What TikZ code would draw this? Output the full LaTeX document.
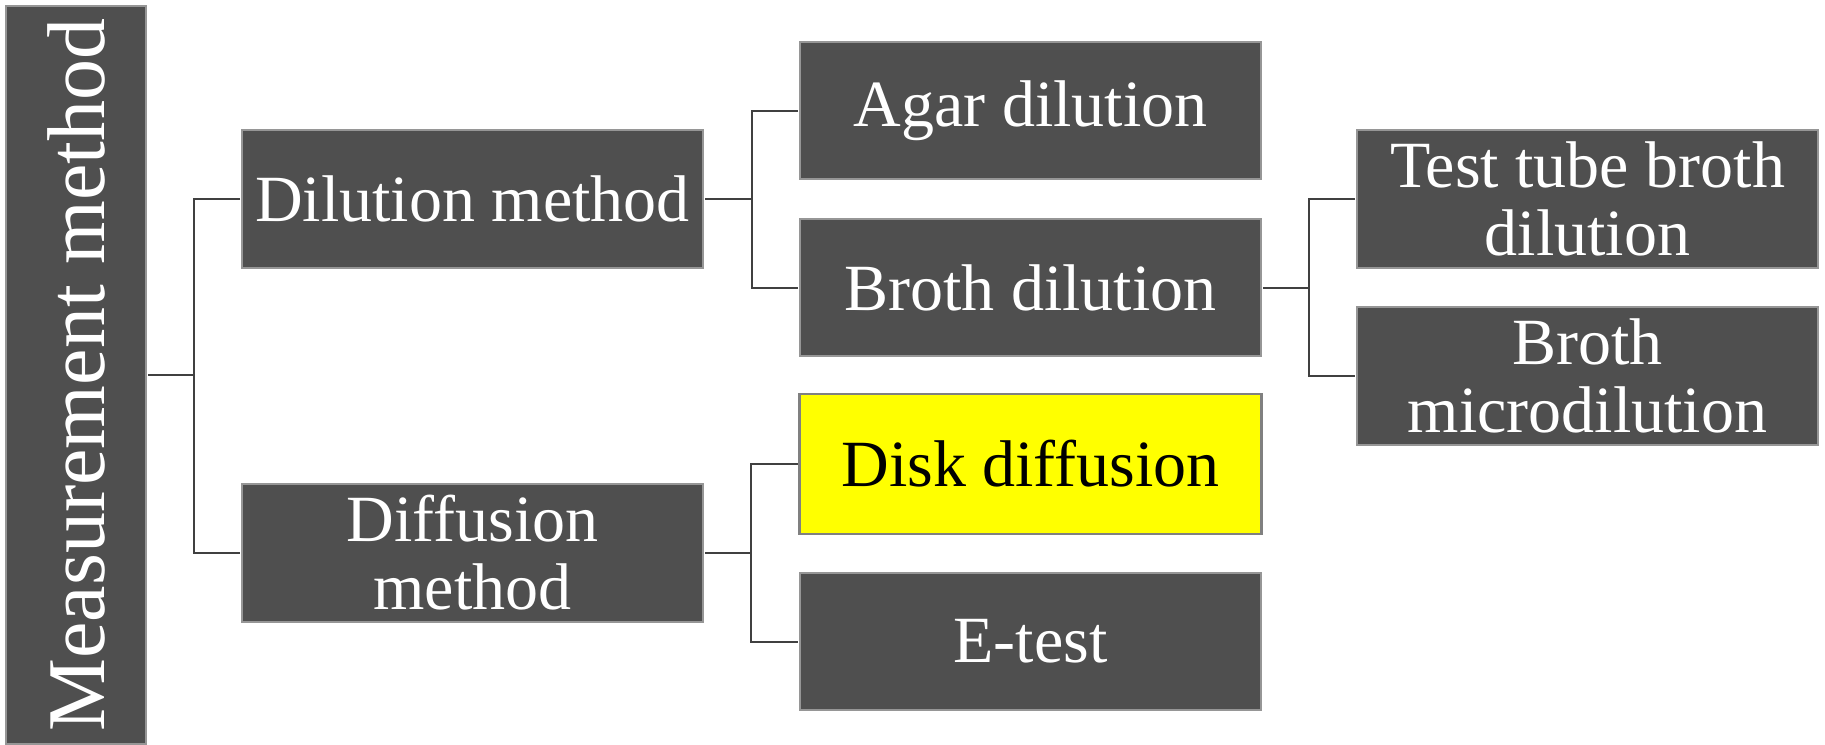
\documentclass[tikz,border=0pt]{standalone}
\usepackage{fontspec}
\usepackage{graphicx}
\setmainfont{Liberation Serif}
\usetikzlibrary{calc}
\definecolor{boxgray}{RGB}{79,79,79}
\definecolor{edgegray}{RGB}{150,150,150}
\definecolor{linegray}{RGB}{64,64,64}
\definecolor{hiyellow}{RGB}{255,255,0}
\tikzset{
  box/.style={rectangle, fill=boxgray, draw=edgegray, line width=1.2pt, text=white,
    minimum width=461pt, minimum height=138pt, inner sep=0pt, outer sep=2pt, align=center,
    font=\fontsize{66}{68}\selectfont},
  hibox/.style={box, fill=hiyellow, draw=gray, line width=2.5pt, text=black,
    minimum width=462pt, minimum height=140pt},
  link/.style={draw=linegray, line width=2pt}
}
\begin{document}
\begin{tikzpicture}[x=1pt,y=-1pt]
\useasboundingbox (0,0) rectangle (1825,744);
\node[box, minimum width=140pt, minimum height=738pt, font=\fontsize{82}{84}\selectfont] (root) at (76,375) {\rotatebox{90}{Measurement method}};
\node[box] (dil) at (472.5,199) {Dilution method};
\node[box] (dif) at (472.5,553) {Diffusion\\method};
\node[box, minimum height=137pt] (agar) at (1030.5,110.5) {Agar dilution};
\node[box, minimum height=137pt] (broth) at (1030.5,287.5) {Broth dilution};
\node[hibox] (disk) at (1030.5,464) {Disk diffusion};
\node[box, minimum height=137pt] (etest) at (1030.5,641.5) {E-test};
\node[box] (tt) at (1587.5,199) {Test tube broth\\dilution};
\node[box] (micro) at (1587.5,376) {Broth\\microdilution};

\coordinate (j1) at ($(root.east)!.5!(dil.west)$);
\coordinate (j2) at ($(dil.east)!.5!(agar.west)$);
\coordinate (j3) at ($(dif.east)!.5!(disk.west)$);
\coordinate (j4) at ($(broth.east)!.5!(tt.west)$);

\draw[link] (root.east) -- (root.east -| j1);
\draw[link] (dil.west) -| (j1 |- root.east) |- (dif.west);
\draw[link] (dil.east) -- (dil.east -| j2);
\draw[link] (agar.west) -| (j2 |- dil.east) |- (broth.west);
\draw[link] (dif.east) -- (dif.east -| j3);
\draw[link] (disk.west) -| (j3 |- dif.east) |- (etest.west);
\draw[link] (broth.east) -- (broth.east -| j4);
\draw[link] (tt.west) -| (j4 |- broth.east) |- (micro.west);
\end{tikzpicture}
\end{document}
